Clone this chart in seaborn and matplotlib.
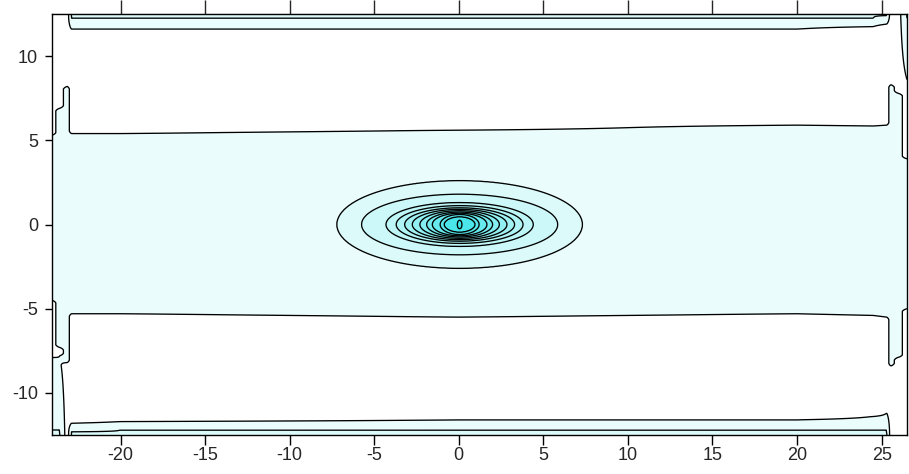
import numpy as np
import matplotlib
matplotlib.use("Agg")
import matplotlib.pyplot as plt
import seaborn as sns

# ------------------------------------------------------------
# Data
# ------------------------------------------------------------

# contour levels of the field
levels = [0.5, 1.5, 2.5, 3.5, 4.5, 5.5, 6.5, 7.5, 8.5, 9.5, 10.5, 11.5, 12.5]

# central peak: half-widths of each ring along x and y (outer -> inner)
ring_ax = [7.25, 5.8, 4.35, 3.75, 3.25, 2.8, 2.35, 1.95, 1.62, 1.15, 0.92, 0.14]
ring_ay = [2.6, 1.8, 1.3, 1.12, 0.99, 0.9, 0.82, 0.74, 0.67, 0.6, 0.46, 0.26]
peak_x0 = 0.05
peak_y0 = 0.0

# band structure: where the lowest level is crossed, column by column
col_x = [-24.05, -23.6, -23.15, -22.9, -20, 0, 20, 24.5, 25.3, 25.55, 25.95, 26.5]
band_top = [5.3, 6.9, 8.2, 5.4, 5.4, 5.6, 5.9, 5.85, 5.9, 8.3, 7.8, 3.9]
band_bot = [-4.5, -7.3, -8.2, -5.3, -5.3, -5.5, -5.3, -5.4, -5.5, -8.4, -7.9, -5.0]
top_in = [13, 13, 13, 11.6, 11.6, 11.6, 11.6, 11.75, 11.9, 13, 13, 8.6]
bot_in = [-7.9, -7.8, -13, -11.8, -11.7, -11.6, -11.6, -11.4, -11.2, -13, -13, -13]
top_out = 12.25
bot_out = -12.2

x_ticks = [-20, -15, -10, -5, 0, 5, 10, 15, 20, 25]
y_ticks = [-10, -5, 0, 5, 10]

# ------------------------------------------------------------
# Build the field
# ------------------------------------------------------------

xf = np.linspace(-24.05, 26.5, 1400)
yf = np.linspace(-12.5, 12.5, 800)
X, Y = np.meshgrid(xf, yf)

d = 0.15
cols = []
for bt, bb, ti, bi in zip(band_top, band_bot, top_in, bot_in):
    to = max(top_out, ti + 0.5)
    bo = min(bot_out, bi - 0.5)
    ys = [-15, bo, bi, bi + d, bb - d, bb, bb + d, bt - d, bt, bt + d, ti - d, ti, to, 15]
    vs = [2.0, 1.5, 0.5, 0, 0, 0.5, 1, 1, 0.5, 0, 0, 0.5, 1.5, 2.0]
    cols.append(np.interp(yf, ys, vs))
cols = np.array(cols).T

Z = np.array([np.interp(xf, col_x, row) for row in cols])

# central peak, nested rings
ax_r = np.array(ring_ax)[:, None, None]
ay_r = np.array(ring_ay)[:, None, None]
ring_lev = np.array(levels[1:])
rho = np.sqrt(((X - peak_x0) / ax_r) ** 2 + ((Y - peak_y0) / ay_r) ** 2)
n_in = (rho <= 1).sum(axis=0)
K = len(ring_ax)

peak = ring_lev[0] - (rho[0] - 1)
for k in range(K - 1):
    sel = n_in == k + 1
    t = (1 - rho[k][sel]) / (rho[k + 1][sel] - rho[k][sel])
    peak[sel] = ring_lev[k] + t * (ring_lev[k + 1] - ring_lev[k])
sel = n_in == K
peak[sel] = ring_lev[-1] + (1 - rho[K - 1][sel]) * 0.7

Z = np.maximum(Z, peak)

# ------------------------------------------------------------
# Plot
# ------------------------------------------------------------

sns.set_style("ticks")
plt.rcParams["font.family"] = ["Liberation Sans", "DejaVu Sans"]
plt.rcParams["axes.unicode_minus"] = False

fill_colors = ["#ffffff"] + sns.blend_palette(["#eafcfc", "#3ce4e8"], n_colors=13)

fig = plt.figure(figsize=(9.09, 4.74), dpi=100)
ax = fig.add_axes([52 / 909, 1 - 435 / 474, 855 / 909, 421 / 474])

ax.contourf(X, Y, Z, levels=[-5] + levels + [20], colors=fill_colors)
ax.contour(X, Y, Z, levels=levels, colors="black", linewidths=0.95)

ax.set_xlim(-24.05, 26.5)
ax.set_ylim(-12.5, 12.5)
ax.set_xticks(x_ticks)
ax.set_yticks(y_ticks)
ax.tick_params(axis="x", direction="out", length=7, width=1, color="black",
               labelsize=13, pad=2)
ax.tick_params(axis="y", direction="out", length=5, width=1, color="black",
               labelsize=13, pad=5, right=False)

top = ax.secondary_xaxis("top")
top.set_xticks(x_ticks)
top.tick_params(direction="out", length=10, width=1, labeltop=False)

for s in ax.spines.values():
    s.set_color("black")
    s.set_linewidth(1)
    s.set_visible(True)

fig.savefig("out.png", dpi=100)
